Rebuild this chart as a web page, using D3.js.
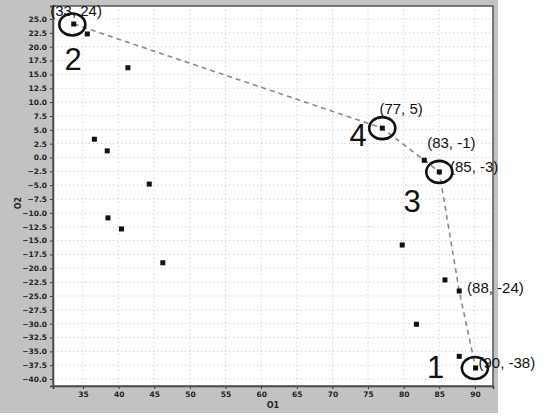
<!DOCTYPE html>
<html><head><meta charset="utf-8">
<script src="https://cdn.jsdelivr.net/npm/d3@7"></script>
<style>body{margin:0;background:#fff}svg{display:block}</style>
</head><body>
<script>
const xTicks = [35,40,45,50,55,60,65,70,75,80,85,90];
const yTicks = [25,22.5,20,17.5,15,12.5,10,7.5,5,2.5,0,-2.5,-5,-7.5,-10,-12.5,-15,-17.5,-20,-22.5,-25,-27.5,-30,-32.5,-35,-37.5,-40];
const ptX = [33.7,35.6,41.3,36.6,38.4,38.5,40.4,44.3,46.2,77.0,82.9,85.0,79.8,81.8,85.8,87.8,90.1,87.8];
const ptY = [24.1,22.3,16.2,3.3,1.2,-10.9,-12.9,-4.8,-19.0,5.3,-0.5,-2.6,-15.8,-30.1,-22.1,-24.1,-38.0,-35.9];
const frontX = [33.7,77.0,82.9,85.0,87.8,90.1];
const frontY = [24.1,5.3,-0.5,-2.6,-24.1,-38.0];
const circX = [33.5,77.0,85.0,90.0];
const circY = [24.0,5.3,-2.6,-38.0];
const rankLabels = ["2","4","3","1"];
const rankX = [33.6,73.6,81.2,84.5];
const rankY = [15.8,2.1,-9.8,-39.8];
const coordLabels = ["(33, 24)","(77, 5)","(83, -1)","(85, -3)","(88, -24)","(90, -38)"];
const coordX = [30.4,76.6,83.3,86.5,88.9,90.5];
const coordY = [25.6,7.8,1.8,-2.7,-24.4,-38.0];

const W=546,H=417;
const svg=d3.select("body").append("svg").attr("width",W).attr("height",H);
const L=53,R=493,T=6,B=386;
const x=d3.scaleLinear().domain([30.79,92.54]).range([L,R]);
const y=d3.scaleLinear().domain([-41.25,27.35]).range([B,T]);

svg.append("rect").attr("x",0).attr("y",0).attr("width",498).attr("height",413).attr("fill","#c2c2c2");
svg.append("rect").attr("x",L).attr("y",T).attr("width",R-L).attr("height",B-T).attr("fill","#fff");

// grid
svg.append("g").selectAll("line").data(xTicks).join("line")
  .attr("x1",d=>x(d)).attr("x2",d=>x(d)).attr("y1",T).attr("y2",B)
  .attr("stroke","#c4c4c4").attr("stroke-width",1).attr("stroke-dasharray","1,3");
svg.append("g").selectAll("line").data(yTicks).join("line")
  .attr("y1",d=>y(d)).attr("y2",d=>y(d)).attr("x1",L).attr("x2",R)
  .attr("stroke","#c4c4c4").attr("stroke-width",1).attr("stroke-dasharray","1,3");

// axes
const xa=svg.append("g").attr("transform",`translate(0,${B})`)
  .call(d3.axisBottom(x).tickValues(xTicks).tickSize(3).tickFormat(d3.format("d")));
const ya=svg.append("g").attr("transform",`translate(${L},0)`)
  .call(d3.axisLeft(y).tickValues(yTicks).tickSize(3).tickFormat(d3.format(".1f")));
[xa,ya].forEach(a=>{
  a.selectAll("text").attr("font-family","DejaVu Sans").attr("font-size",7.5).attr("font-weight","bold").attr("fill","#222");
  a.select(".domain").attr("stroke","#333").attr("stroke-width",1.5);
  a.selectAll(".tick line").attr("stroke","#333");
});
svg.append("rect").attr("x",L).attr("y",T).attr("width",R-L).attr("height",B-T).attr("fill","none").attr("stroke","#555").attr("stroke-width",1.5);

svg.append("text").attr("x",273).attr("y",408).attr("text-anchor","middle")
  .attr("font-family","DejaVu Sans").attr("font-size",8).attr("font-weight","bold").attr("fill","#222").text("O1");
svg.append("text").attr("transform","translate(21,203) rotate(-90)").attr("text-anchor","middle")
  .attr("font-family","DejaVu Sans").attr("font-size",8).attr("font-weight","bold").attr("fill","#222").text("O2");

// front line
const line=d3.line().x(d=>x(d[0])).y(d=>y(d[1]));
svg.append("path").attr("d",line(frontX.map((v,i)=>[v,frontY[i]])))
  .attr("fill","none").attr("stroke","#8a8a8a").attr("stroke-width",1.6).attr("stroke-dasharray","5,4");

// points
const s=5;
svg.append("g").selectAll("rect").data(ptX.map((v,i)=>[v,ptY[i]])).join("rect")
  .attr("x",d=>x(d[0])-s/2).attr("y",d=>y(d[1])-s/2).attr("width",s).attr("height",s).attr("fill","#111");

// circles
svg.append("g").selectAll("ellipse").data(circX.map((v,i)=>[v,circY[i]])).join("ellipse")
  .attr("cx",d=>x(d[0])).attr("cy",d=>y(d[1])).attr("rx",13).attr("ry",11)
  .attr("fill","none").attr("stroke","#111").attr("stroke-width",2.6);

// rank numbers
svg.append("g").selectAll("text").data(rankLabels).join("text")
  .attr("x",(d,i)=>x(rankX[i])).attr("y",(d,i)=>y(rankY[i])).attr("text-anchor","middle")
  .attr("font-family","Liberation Sans").attr("font-size",31).attr("fill","#111").text(d=>d);

// coordinate labels
svg.append("g").selectAll("text").data(coordLabels).join("text")
  .attr("x",(d,i)=>x(coordX[i])).attr("y",(d,i)=>y(coordY[i]))
  .attr("font-family","Liberation Sans").attr("font-size",15).attr("fill","#111").text(d=>d);
</script>
</body></html>
